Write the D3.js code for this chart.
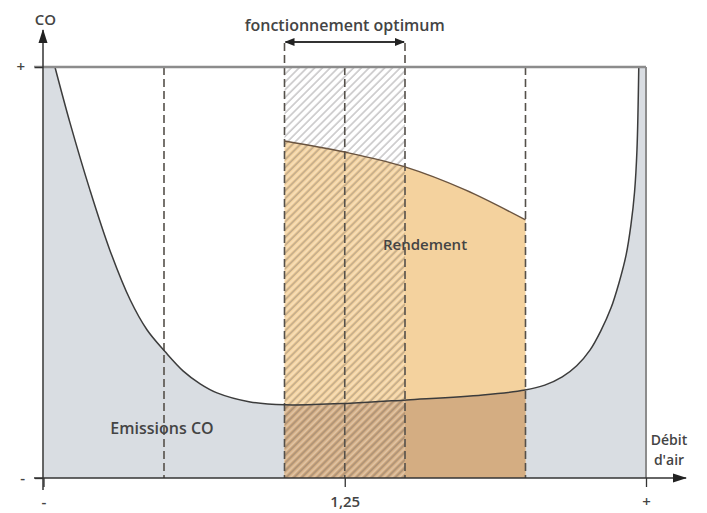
<!DOCTYPE html>
<html><head><meta charset="utf-8">
<script src="https://cdn.jsdelivr.net/npm/d3@7/dist/d3.min.js"></script>
<style>
body{margin:0;background:#fff;}
svg{display:block;}
text{font-family:"Open Sans",sans-serif;font-weight:600;fill:#444;}
</style></head>
<body>
<script>
// ---- data ----
const coX = [1.9,4.4,7.7,11.0,14.4,17.2,20.2,23.2,26.0,28.8,34.3,40.1,50.9,60.3,72.9,79.9,83.2,86.1,88.5,90.7,92.5,94.2,95.5,96.7,97.5,98.1,98.5,98.8];
const coY = [100,86.4,70.1,55.5,43.3,36.0,30.7,26.0,22.9,20.7,18.5,17.8,18.2,19.0,20.2,21.4,22.6,24.6,27.3,31.1,35.8,41.4,47.4,54.3,61.6,69.6,79.8,100];
const rendX = [40,50,60,70,80];
const rendY = [82.0,79.3,75.7,70.1,62.8];
const dashedX = [20,40,50,60,80];
const optimumRange = [40,60];
const xTickValues = [0,50,100];
const xTickLabels = ["-","1,25","+"];
const yTickValues = [0,100];
const yTickLabels = ["-","+"];
const labels = {y:"CO", x:["Débit","d'air"], optimum:"fonctionnement optimum", rend:"Rendement", co:"Emissions CO"};

const W=707,H=513;
const x = d3.scaleLinear().domain([0,100]).range([43.5,646]);
const y = d3.scaleLinear().domain([0,100]).range([478,67]);

const svg = d3.select("body").append("svg").attr("width",W).attr("height",H);
const defs = svg.append("defs");

// hatch pattern
const pat = defs.append("pattern").attr("id","hatch").attr("patternUnits","userSpaceOnUse")
  .attr("width",5.5).attr("height",5.5).attr("patternTransform","rotate(45)");
pat.append("line").attr("x1",1).attr("y1",0).attr("x2",1).attr("y2",5.5)
  .attr("stroke","rgba(95,90,95,0.42)").attr("stroke-width",1.3);
pat.append("line").attr("x1",3.8).attr("y1",0).attr("x2",3.8).attr("y2",5.5)
  .attr("stroke","rgba(255,255,255,0.35)").attr("stroke-width",1.2);

// arrow markers
defs.append("marker").attr("id","arr").attr("viewBox","0 0 10 10").attr("refX",9).attr("refY",5)
   .attr("markerWidth",10).attr("markerHeight",10).attr("markerUnits","userSpaceOnUse").attr("orient","auto-start-reverse")
   .append("path").attr("d","M0,1 L10,5 L0,9 Z").attr("fill","#222");
defs.append("marker").attr("id","arr2").attr("viewBox","0 0 14 10").attr("refX",13).attr("refY",5)
   .attr("markerWidth",14).attr("markerHeight",10).attr("markerUnits","userSpaceOnUse").attr("orient","auto-start-reverse")
   .append("path").attr("d","M0,0.5 L14,5 L0,9.5 Z").attr("fill","#222");

const coPts = coX.map((v,i)=>[v,coY[i]]);
const curveLine = d3.line().x(d=>x(d[0])).y(d=>y(d[1])).curve(d3.curveCatmullRom.alpha(0.5));
const rendLine = d3.line().x(d=>x(d[0])).y(d=>y(d[1])).curve(d3.curveMonotoneX);

// gray region: outside the U curve
const grayPath = "M"+x(0)+","+y(100)+" L"+curveLine(coPts).slice(1)+" L"+x(100)+","+y(100)+" L"+x(100)+","+y(0)+" L"+x(0)+","+y(0)+"Z";
svg.append("path").attr("d",grayPath).attr("fill","#d9dde2");
defs.append("clipPath").attr("id","grayclip").append("path").attr("d",grayPath);

// Rendement area
const rendPts = rendX.map((v,i)=>[v,rendY[i]]);
const rendArea = d3.area().x(d=>x(d[0])).y0(y(0)).y1(d=>y(d[1])).curve(d3.curveMonotoneX);
svg.append("path").attr("d",rendArea(rendPts)).attr("fill","#f4d29e");
svg.append("path").attr("d",rendArea(rendPts)).attr("fill","#d4ad82").attr("clip-path","url(#grayclip)");

// hatch over optimum zone
svg.append("rect").attr("x",x(optimumRange[0])).attr("y",y(100))
  .attr("width",x(optimumRange[1])-x(optimumRange[0])).attr("height",y(0)-y(100))
  .attr("fill","url(#hatch)");

// dashed lines
svg.selectAll("line.dash").data(dashedX).join("line").attr("class","dash")
  .attr("x1",d=>x(d)).attr("x2",d=>x(d))
  .attr("y1",d=>(d===optimumRange[0]||d===optimumRange[1])?43:y(100)).attr("y2",y(0))
  .attr("stroke","#55504a").attr("stroke-width",1.6).attr("stroke-dasharray","8,4");

// curves
svg.append("path").attr("d",rendLine(rendPts)).attr("fill","none").attr("stroke","#6a5440").attr("stroke-width",1.5);
svg.append("path").attr("d",curveLine(coPts)).attr("fill","none").attr("stroke","#3c3c3c").attr("stroke-width",1.5);

// top and right border
svg.append("line").attr("x1",34).attr("x2",x(100)).attr("y1",y(100)).attr("y2",y(100)).attr("stroke","#8c8c8c").attr("stroke-width",2.5);
svg.append("line").attr("x1",x(100)).attr("x2",x(100)).attr("y1",y(100)).attr("y2",y(0)).attr("stroke","#8c8c8c").attr("stroke-width",2);

// axes
const xAxis = d3.axisBottom(x).tickValues(xTickValues).tickFormat((d,i)=>xTickLabels[i]).tickSize(9).tickPadding(6).tickSizeOuter(0);
const gx = svg.append("g").attr("transform",`translate(0,${y(0)})`).call(xAxis);
gx.select(".domain").remove();
gx.selectAll(".tick line").attr("stroke","#333").attr("stroke-width",1.3);
gx.selectAll(".tick text").attr("font-size",15).style("font-family","Open Sans").style("font-weight",600).attr("fill","#444").attr("dy","0.9em");

const yAxis = d3.axisLeft(y).tickValues(yTickValues).tickFormat((d,i)=>yTickLabels[i]).tickSize(8).tickPadding(10).tickSizeOuter(0);
const gy = svg.append("g").attr("transform",`translate(${x(0)-0.5},0)`).call(yAxis);
gy.select(".domain").remove();
gy.selectAll(".tick line").attr("stroke","#333").attr("stroke-width",1.3);
gy.selectAll(".tick text").attr("font-size",15).style("font-family","Open Sans").style("font-weight",600).attr("fill","#444");

svg.append("line").attr("x1",34).attr("x2",686).attr("y1",y(0)).attr("y2",y(0))
  .attr("stroke","#333").attr("stroke-width",1.5).attr("marker-end","url(#arr2)");
svg.append("line").attr("x1",x(0)-0.5).attr("x2",x(0)-0.5).attr("y1",490).attr("y2",30)
  .attr("stroke","#333").attr("stroke-width",1.5).attr("marker-end","url(#arr2)");

// optimum arrow
svg.append("line").attr("x1",x(optimumRange[0])+1).attr("x2",x(optimumRange[1])-1).attr("y1",42).attr("y2",42)
  .attr("stroke","#333").attr("stroke-width",2).attr("marker-start","url(#arr)").attr("marker-end","url(#arr)");

// labels
svg.append("text").attr("x",x(0)+2).attr("y",25).attr("text-anchor","middle").attr("font-size",15).text(labels.y);
svg.append("text").attr("x",x(50)).attr("y",31).attr("text-anchor","middle").attr("font-size",16).text(labels.optimum);
svg.append("text").attr("x",425).attr("y",250).attr("text-anchor","middle").attr("font-size",15).text(labels.rend);
svg.append("text").attr("x",162).attr("y",434).attr("text-anchor","middle").attr("font-size",16).text(labels.co);
svg.append("text").attr("x",669).attr("y",445).attr("text-anchor","middle").attr("font-size",14).text(labels.x[0]);
svg.append("text").attr("x",669).attr("y",465).attr("text-anchor","middle").attr("font-size",14).text(labels.x[1]);
</script>
</body></html>
